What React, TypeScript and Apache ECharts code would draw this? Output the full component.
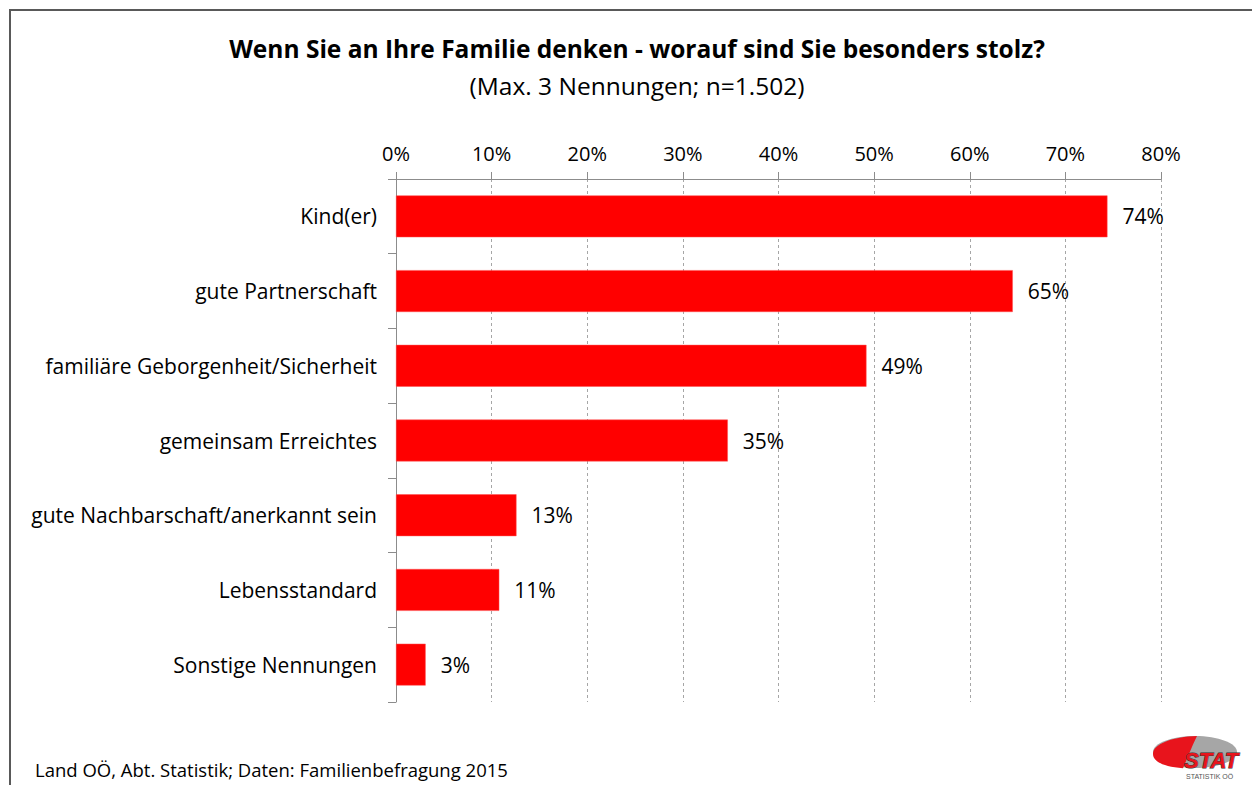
import React, { useEffect, useRef } from "react";
import * as echarts from "echarts";

const categories = [
  "Kind(er)",
  "gute Partnerschaft",
  "familiäre Geborgenheit/Sicherheit",
  "gemeinsam Erreichtes",
  "gute Nachbarschaft/anerkannt sein",
  "Lebensstandard",
  "Sonstige Nennungen",
];
const values = [74.4, 64.5, 49.2, 34.7, 12.6, 10.8, 3.1];
const axisMin = 0;
const axisMax = 80;
const axisStep = 10;

const titleText = "Wenn Sie an Ihre Familie denken - worauf sind Sie besonders stolz?";
const subtitleText = "(Max. 3 Nennungen; n=1.502)";
const sourceText = "Land OÖ, Abt. Statistik; Daten: Familienbefragung 2015";

const FONT = "'Open Sans', 'Noto Sans', sans-serif";

echarts.graphic.registerShape(
  "logoRed",
  echarts.graphic.extendPath(
    "M 0 19 C 0 8 20 1 44 0 L 40 9 L 30 34 C 10 32 0 27 0 19 Z",
    {}
  )
);

export default function App() {
  const ref = useRef<HTMLDivElement>(null);
  useEffect(() => {
    if (!ref.current) return;
    const chart = echarts.init(ref.current, null, { renderer: "svg" });
    chart.setOption({
      animation: false,
      backgroundColor: "#ffffff",
      textStyle: { fontFamily: FONT },
      grid: { left: 396, right: 91, top: 179, bottom: 83, containLabel: false },
      xAxis: {
        type: "value",
        position: "top",
        min: axisMin,
        max: axisMax,
        interval: axisStep,
        axisLabel: {
          formatter: "{value}%",
          fontSize: 20,
          color: "#000",
          margin: 16,
          fontFamily: FONT,
        },
        axisLine: { show: true, lineStyle: { color: "#8c8c8c", width: 1 } },
        axisTick: { show: true, length: 7, lineStyle: { color: "#8c8c8c" } },
        splitLine: { show: true, lineStyle: { color: "#a6a6a6", type: [3, 3], width: 1 } },
      },
      yAxis: {
        type: "category",
        inverse: true,
        data: categories,
        axisLabel: { fontSize: 21, color: "#000", margin: 19, fontFamily: FONT },
        axisLine: { show: true, lineStyle: { color: "#8c8c8c", width: 1 } },
        axisTick: { show: true, length: 8, lineStyle: { color: "#8c8c8c" } },
        splitLine: { show: false },
      },
      series: [
        {
          type: "bar",
          data: values,
          barWidth: "56%",
          itemStyle: { color: "#ff0000", borderColor: "#ff5050", borderWidth: 0.5 },
          label: {
            show: true,
            position: "right",
            distance: 15,
            formatter: (p: any) => Math.round(p.value) + "%",
            fontSize: 21,
            color: "#000",
            fontFamily: FONT,
          },
        },
      ],
      graphic: [
        {
          type: "rect",
          shape: { x: 10, y: 10, width: 1400, height: 900 },
          style: { fill: "none", stroke: "#595959", lineWidth: 2 },
          silent: true,
        },
        {
          type: "text",
          x: 637,
          y: 48,
          style: {
            text: titleText,
            fontSize: 24.5,
            fontWeight: "bold",
            fill: "#000",
            fontFamily: FONT,
            align: "center",
            verticalAlign: "middle",
          },
        },
        {
          type: "text",
          x: 637,
          y: 85,
          style: {
            text: subtitleText,
            fontSize: 24.5,
            fill: "#000",
            fontFamily: FONT,
            align: "center",
            verticalAlign: "middle",
          },
        },
        {
          type: "text",
          left: 35,
          top: 760,
          style: { text: sourceText, fontSize: 18.5, fill: "#000", fontFamily: FONT },
        },
        {
          type: "ellipse",
          shape: { cx: 1195, cy: 752, rx: 42, ry: 16 },
          style: { fill: "#a6a6a6" },
        },
        {
          type: "logoRed",
          x: 1153,
          y: 736,
          scaleX: 1,
          scaleY: 0.95,
          style: { fill: "#e8141c" },
        },
        {
          type: "text",
          x: 1184,
          y: 749,
          style: {
            text: "STAT",
            fontSize: 22,
            fontWeight: "bold",
            fontStyle: "italic",
            fill: "#e8141c",
            stroke: "#333",
            lineWidth: 1,
            fontFamily: "'Liberation Sans', Arial, sans-serif",
          },
        },
        {
          type: "text",
          x: 1186,
          y: 773,
          style: {
            text: "STATISTIK OÖ",
            fontSize: 7,
            fill: "#555",
            fontFamily: "'Liberation Sans', Arial, sans-serif",
          },
        },
      ],
    });
    return () => chart.dispose();
  }, []);
  return (
    <div
      ref={ref}
      style={{ position: "fixed", left: 0, top: 0, width: 1252, height: 785 }}
    />
  );
}
